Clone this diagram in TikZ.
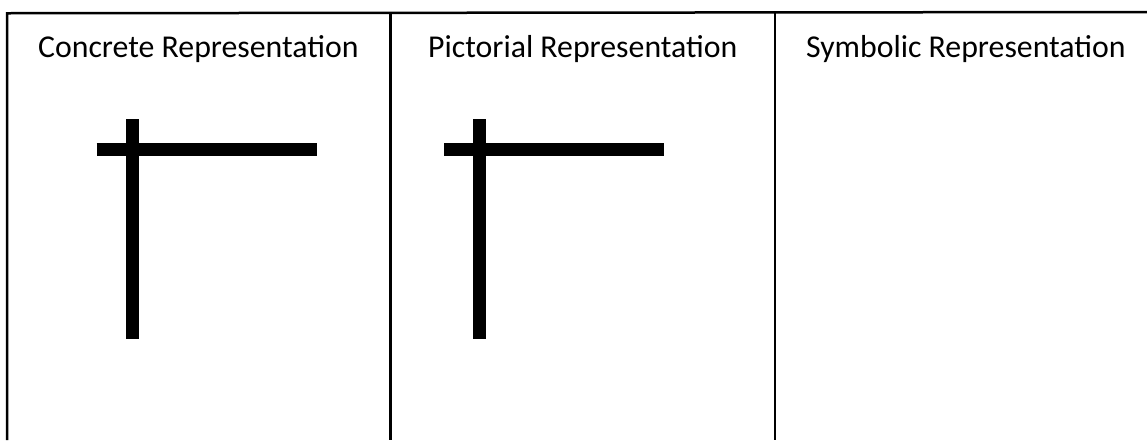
\documentclass[tikz,border=0pt]{standalone}
\usepackage{fontspec}
\setmainfont{Carlito}
\begin{document}
\begin{tikzpicture}[x=1pt,y=-1pt,
  frame/.style={line width=2.5pt,black},
  bar/.style={line width=12.4pt,black},
  title/.style={anchor=base,inner sep=0pt,font=\fontsize{31.8}{36}\selectfont}]
\useasboundingbox (0,0) rectangle (1147,440);
% frame
\coordinate (tl) at (7,12);
\coordinate (bl) at (7,440);
\coordinate (tr) at (1147,12);
\coordinate (d1t) at (390.5,12);
\coordinate (d1b) at (390.5,440);
\coordinate (d2t) at (775,12);
\coordinate (d2b) at (775,440);
\draw[frame] (bl) -- ([yshift=-1.25pt]tl) -- (tr);
\draw[frame] (d1t) -- (d1b);
\draw[frame] (d2t) -- (d2b);
% titles
\node[title] (t1) at (198.3,57.3) {Concrete Representation};
\node[title] (t2) at (582.7,57.3) {Pictorial Representation};
\node[title] (t3) at (965.8,57.3) {Symbolic Representation};
% crosses
\coordinate (h1a) at (96.7,149.5);
\coordinate (h1b) at (316.7,149.5);
\coordinate (v1a) at (132.3,119);
\coordinate (v1b) at (132.3,339.3);
\draw[bar] (h1a) -- (h1b);
\draw[bar] (v1a) -- (v1b);
\coordinate (h2a) at (444,149.5);
\coordinate (h2b) at (664.3,149.5);
\coordinate (v2a) at (479.5,119);
\coordinate (v2b) at (479.5,339.3);
\draw[bar] (h2a) -- (h2b);
\draw[bar] (v2a) -- (v2b);
\end{tikzpicture}
\end{document}
